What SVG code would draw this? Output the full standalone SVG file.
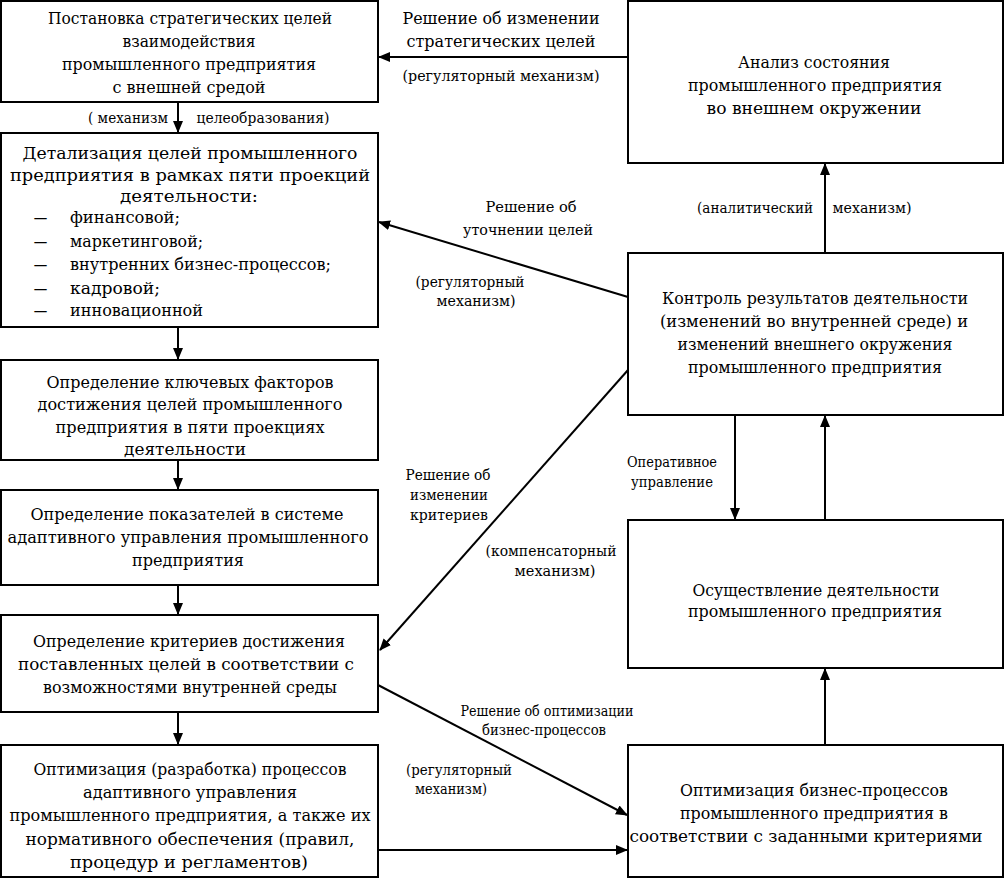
<svg xmlns="http://www.w3.org/2000/svg" width="1005" height="879" viewBox="0 0 1005 879">
<style>
.box{fill:#fff;stroke:#000;stroke-width:2}
.t{font-family:"DejaVu Serif","Liberation Serif",serif;font-size:17px;fill:#000;text-anchor:middle}
.tl{font-family:"DejaVu Serif","Liberation Serif",serif;font-size:17px;fill:#000}
.l{font-family:"DejaVu Serif","Liberation Serif",serif;font-size:15px;fill:#000;text-anchor:middle}
.c{stroke:#000;stroke-width:2;fill:none}
</style>
<defs>
<marker id="ar" markerWidth="12" markerHeight="10" refX="11" refY="5" orient="auto" markerUnits="userSpaceOnUse">
<path d="M0,0 L12,5 L0,10 Z" fill="#000"/>
</marker>
</defs>
<rect width="1005" height="879" fill="#fff"/>
<g id="n1"><rect class="box" x="1" y="1" width="377" height="101"/>
<text class="t" x="190" y="24" textLength="284" lengthAdjust="spacingAndGlyphs">Постановка стратегических целей</text>
<text class="t" x="189" y="47" textLength="133" lengthAdjust="spacingAndGlyphs">взаимодействия</text>
<text class="t" x="189" y="70" textLength="254" lengthAdjust="spacingAndGlyphs">промышленного предприятия</text>
<text class="t" x="189" y="93" textLength="153" lengthAdjust="spacingAndGlyphs">с внешней средой</text></g>
<g id="n2"><rect class="box" x="1" y="133" width="377" height="194"/>
<text class="t" x="190" y="159" textLength="335" lengthAdjust="spacingAndGlyphs">Детализация целей промышленного</text>
<text class="t" x="190" y="181" textLength="360" lengthAdjust="spacingAndGlyphs">предприятия в рамках пяти проекций</text>
<text class="t" x="189" y="202" textLength="138" lengthAdjust="spacingAndGlyphs">деятельности:</text>
<text class="tl" x="33" y="223" textLength="15" lengthAdjust="spacingAndGlyphs">–</text><text class="tl" x="70" y="223" textLength="110" lengthAdjust="spacingAndGlyphs">финансовой;</text>
<text class="tl" x="33" y="247" textLength="15" lengthAdjust="spacingAndGlyphs">–</text><text class="tl" x="70" y="247" textLength="133" lengthAdjust="spacingAndGlyphs">маркетинговой;</text>
<text class="tl" x="33" y="270" textLength="15" lengthAdjust="spacingAndGlyphs">–</text><text class="tl" x="70" y="270" textLength="261" lengthAdjust="spacingAndGlyphs">внутренних бизнес-процессов;</text>
<text class="tl" x="33" y="294" textLength="15" lengthAdjust="spacingAndGlyphs">–</text><text class="tl" x="70" y="294" textLength="90" lengthAdjust="spacingAndGlyphs">кадровой;</text>
<text class="tl" x="33" y="316" textLength="15" lengthAdjust="spacingAndGlyphs">–</text><text class="tl" x="70" y="316" textLength="133" lengthAdjust="spacingAndGlyphs">инновационной</text></g>
<g id="n3"><rect class="box" x="1" y="360" width="377" height="100"/>
<text class="t" x="190" y="388" textLength="287" lengthAdjust="spacingAndGlyphs">Определение ключевых факторов</text>
<text class="t" x="190" y="410" textLength="305" lengthAdjust="spacingAndGlyphs">достижения целей промышленного</text>
<text class="t" x="190" y="433" textLength="269" lengthAdjust="spacingAndGlyphs">предприятия в пяти проекциях</text>
<text class="t" x="185" y="455" textLength="122" lengthAdjust="spacingAndGlyphs">деятельности</text></g>
<g id="n4"><rect class="box" x="1" y="490" width="377" height="95"/>
<text class="t" x="187" y="520" textLength="313" lengthAdjust="spacingAndGlyphs">Определение показателей в системе</text>
<text class="t" x="188" y="543" textLength="361" lengthAdjust="spacingAndGlyphs">адаптивного управления промышленного</text>
<text class="t" x="188" y="566" textLength="112" lengthAdjust="spacingAndGlyphs">предприятия</text></g>
<g id="n5"><rect class="box" x="1" y="615" width="377" height="97"/>
<text class="t" x="189" y="647" textLength="312" lengthAdjust="spacingAndGlyphs">Определение критериев достижения</text>
<text class="t" x="186" y="670" textLength="336" lengthAdjust="spacingAndGlyphs">поставленных целей в соответствии с</text>
<text class="t" x="190" y="693" textLength="294" lengthAdjust="spacingAndGlyphs">возможностями внутренней среды</text></g>
<g id="n6"><rect class="box" x="1" y="745" width="377" height="132"/>
<text class="t" x="190" y="775" textLength="313" lengthAdjust="spacingAndGlyphs">Оптимизация (разработка) процессов</text>
<text class="t" x="190" y="798" textLength="214" lengthAdjust="spacingAndGlyphs">адаптивного управления</text>
<text class="t" x="190" y="821" textLength="361" lengthAdjust="spacingAndGlyphs">промышленного предприятия, а также их</text>
<text class="t" x="190" y="845" textLength="329" lengthAdjust="spacingAndGlyphs">нормативного обеспечения (правил,</text>
<text class="t" x="189" y="868" textLength="238" lengthAdjust="spacingAndGlyphs">процедур и регламентов)</text></g>
<g id="nA"><rect class="box" x="628" y="1" width="375" height="162"/>
<text class="t" x="814" y="68" textLength="152" lengthAdjust="spacingAndGlyphs">Анализ состояния</text>
<text class="t" x="815" y="91" textLength="254" lengthAdjust="spacingAndGlyphs">промышленного предприятия</text>
<text class="t" x="814" y="114" textLength="215" lengthAdjust="spacingAndGlyphs">во внешнем окружении</text></g>
<g id="nB"><rect class="box" x="628" y="253" width="375" height="162"/>
<text class="t" x="815" y="304" textLength="306" lengthAdjust="spacingAndGlyphs">Контроль результатов деятельности</text>
<text class="t" x="814" y="327" textLength="308" lengthAdjust="spacingAndGlyphs">(изменений во внутренней среде) и</text>
<text class="t" x="815" y="350" textLength="275" lengthAdjust="spacingAndGlyphs">изменений внешнего окружения</text>
<text class="t" x="815" y="373" textLength="254" lengthAdjust="spacingAndGlyphs">промышленного предприятия</text></g>
<g id="nC"><rect class="box" x="628" y="520" width="375" height="148"/>
<text class="t" x="816" y="596" textLength="247" lengthAdjust="spacingAndGlyphs">Осуществление деятельности</text>
<text class="t" x="815" y="617" textLength="254" lengthAdjust="spacingAndGlyphs">промышленного предприятия</text></g>
<g id="nD"><rect class="box" x="628" y="745" width="375" height="132"/>
<text class="t" x="814" y="796" textLength="268" lengthAdjust="spacingAndGlyphs">Оптимизация бизнес-процессов</text>
<text class="t" x="814" y="819" textLength="268" lengthAdjust="spacingAndGlyphs">промышленного предприятия в</text>
<text class="t" x="806" y="842" textLength="353" lengthAdjust="spacingAndGlyphs">соответствии с заданными критериями</text></g>
<g id="connectors">
<line class="c" x1="628" y1="57" x2="379" y2="57" marker-end="url(#ar)"/>
<line class="c" x1="178" y1="102" x2="178" y2="132" marker-end="url(#ar)"/>
<line class="c" x1="178" y1="327" x2="178" y2="359" marker-end="url(#ar)"/>
<line class="c" x1="178" y1="460" x2="178" y2="489" marker-end="url(#ar)"/>
<line class="c" x1="178" y1="585" x2="178" y2="614" marker-end="url(#ar)"/>
<line class="c" x1="178" y1="712" x2="178" y2="744" marker-end="url(#ar)"/>
<line class="c" x1="825" y1="253" x2="825" y2="164" marker-end="url(#ar)"/>
<line class="c" x1="628" y1="297" x2="379" y2="222" marker-end="url(#ar)"/>
<line class="c" x1="628" y1="370" x2="380" y2="650" marker-end="url(#ar)"/>
<line class="c" x1="735" y1="415" x2="735" y2="519" marker-end="url(#ar)"/>
<line class="c" x1="825" y1="520" x2="825" y2="416" marker-end="url(#ar)"/>
<line class="c" x1="825" y1="745" x2="825" y2="669" marker-end="url(#ar)"/>
<line class="c" x1="378" y1="685" x2="627" y2="815" marker-end="url(#ar)"/>
<line class="c" x1="378" y1="850" x2="627" y2="850" marker-end="url(#ar)"/>
</g>
<g id="labels">
<text class="t" x="501" y="24" textLength="197" lengthAdjust="spacingAndGlyphs">Решение об изменении</text>
<text class="t" x="501" y="47" textLength="189" lengthAdjust="spacingAndGlyphs">стратегических целей</text>
<text class="l" x="501" y="81" textLength="197" lengthAdjust="spacingAndGlyphs">(регуляторный механизм)</text>
<text class="l" x="128" y="123" textLength="80" lengthAdjust="spacingAndGlyphs">( механизм</text>
<text class="l" x="263" y="123" textLength="133" lengthAdjust="spacingAndGlyphs">целеобразования)</text>
<text class="l" x="755" y="213" textLength="116" lengthAdjust="spacingAndGlyphs">(аналитический</text>
<text class="l" x="872" y="213" textLength="79" lengthAdjust="spacingAndGlyphs">механизм)</text>
<text class="l" x="531" y="212" textLength="91" lengthAdjust="spacingAndGlyphs">Решение об</text>
<text class="l" x="528" y="235" textLength="130" lengthAdjust="spacingAndGlyphs">уточнении целей</text>
<text class="l" x="470" y="287" textLength="109" lengthAdjust="spacingAndGlyphs">(регуляторный</text>
<text class="l" x="476" y="306" textLength="79" lengthAdjust="spacingAndGlyphs">механизм)</text>
<text class="l" x="448" y="480" textLength="85" lengthAdjust="spacingAndGlyphs">Решение об</text>
<text class="l" x="449" y="500" textLength="78" lengthAdjust="spacingAndGlyphs">изменении</text>
<text class="l" x="449" y="520" textLength="78" lengthAdjust="spacingAndGlyphs">критериев</text>
<text class="l" x="551" y="556" textLength="131" lengthAdjust="spacingAndGlyphs">(компенсаторный</text>
<text class="l" x="555" y="576" textLength="81" lengthAdjust="spacingAndGlyphs">механизм)</text>
<text class="l" x="672" y="467" textLength="90" lengthAdjust="spacingAndGlyphs">Оперативное</text>
<text class="l" x="672" y="487" textLength="82" lengthAdjust="spacingAndGlyphs">управление</text>
<text class="l" x="547" y="716" textLength="173" lengthAdjust="spacingAndGlyphs">Решение об оптимизации</text>
<text class="l" x="544" y="735" textLength="124" lengthAdjust="spacingAndGlyphs">бизнес-процессов</text>
<text class="l" x="459" y="775" textLength="106" lengthAdjust="spacingAndGlyphs">(регуляторный</text>
<text class="l" x="451" y="794" textLength="72" lengthAdjust="spacingAndGlyphs">механизм)</text>
</g>
</svg>
